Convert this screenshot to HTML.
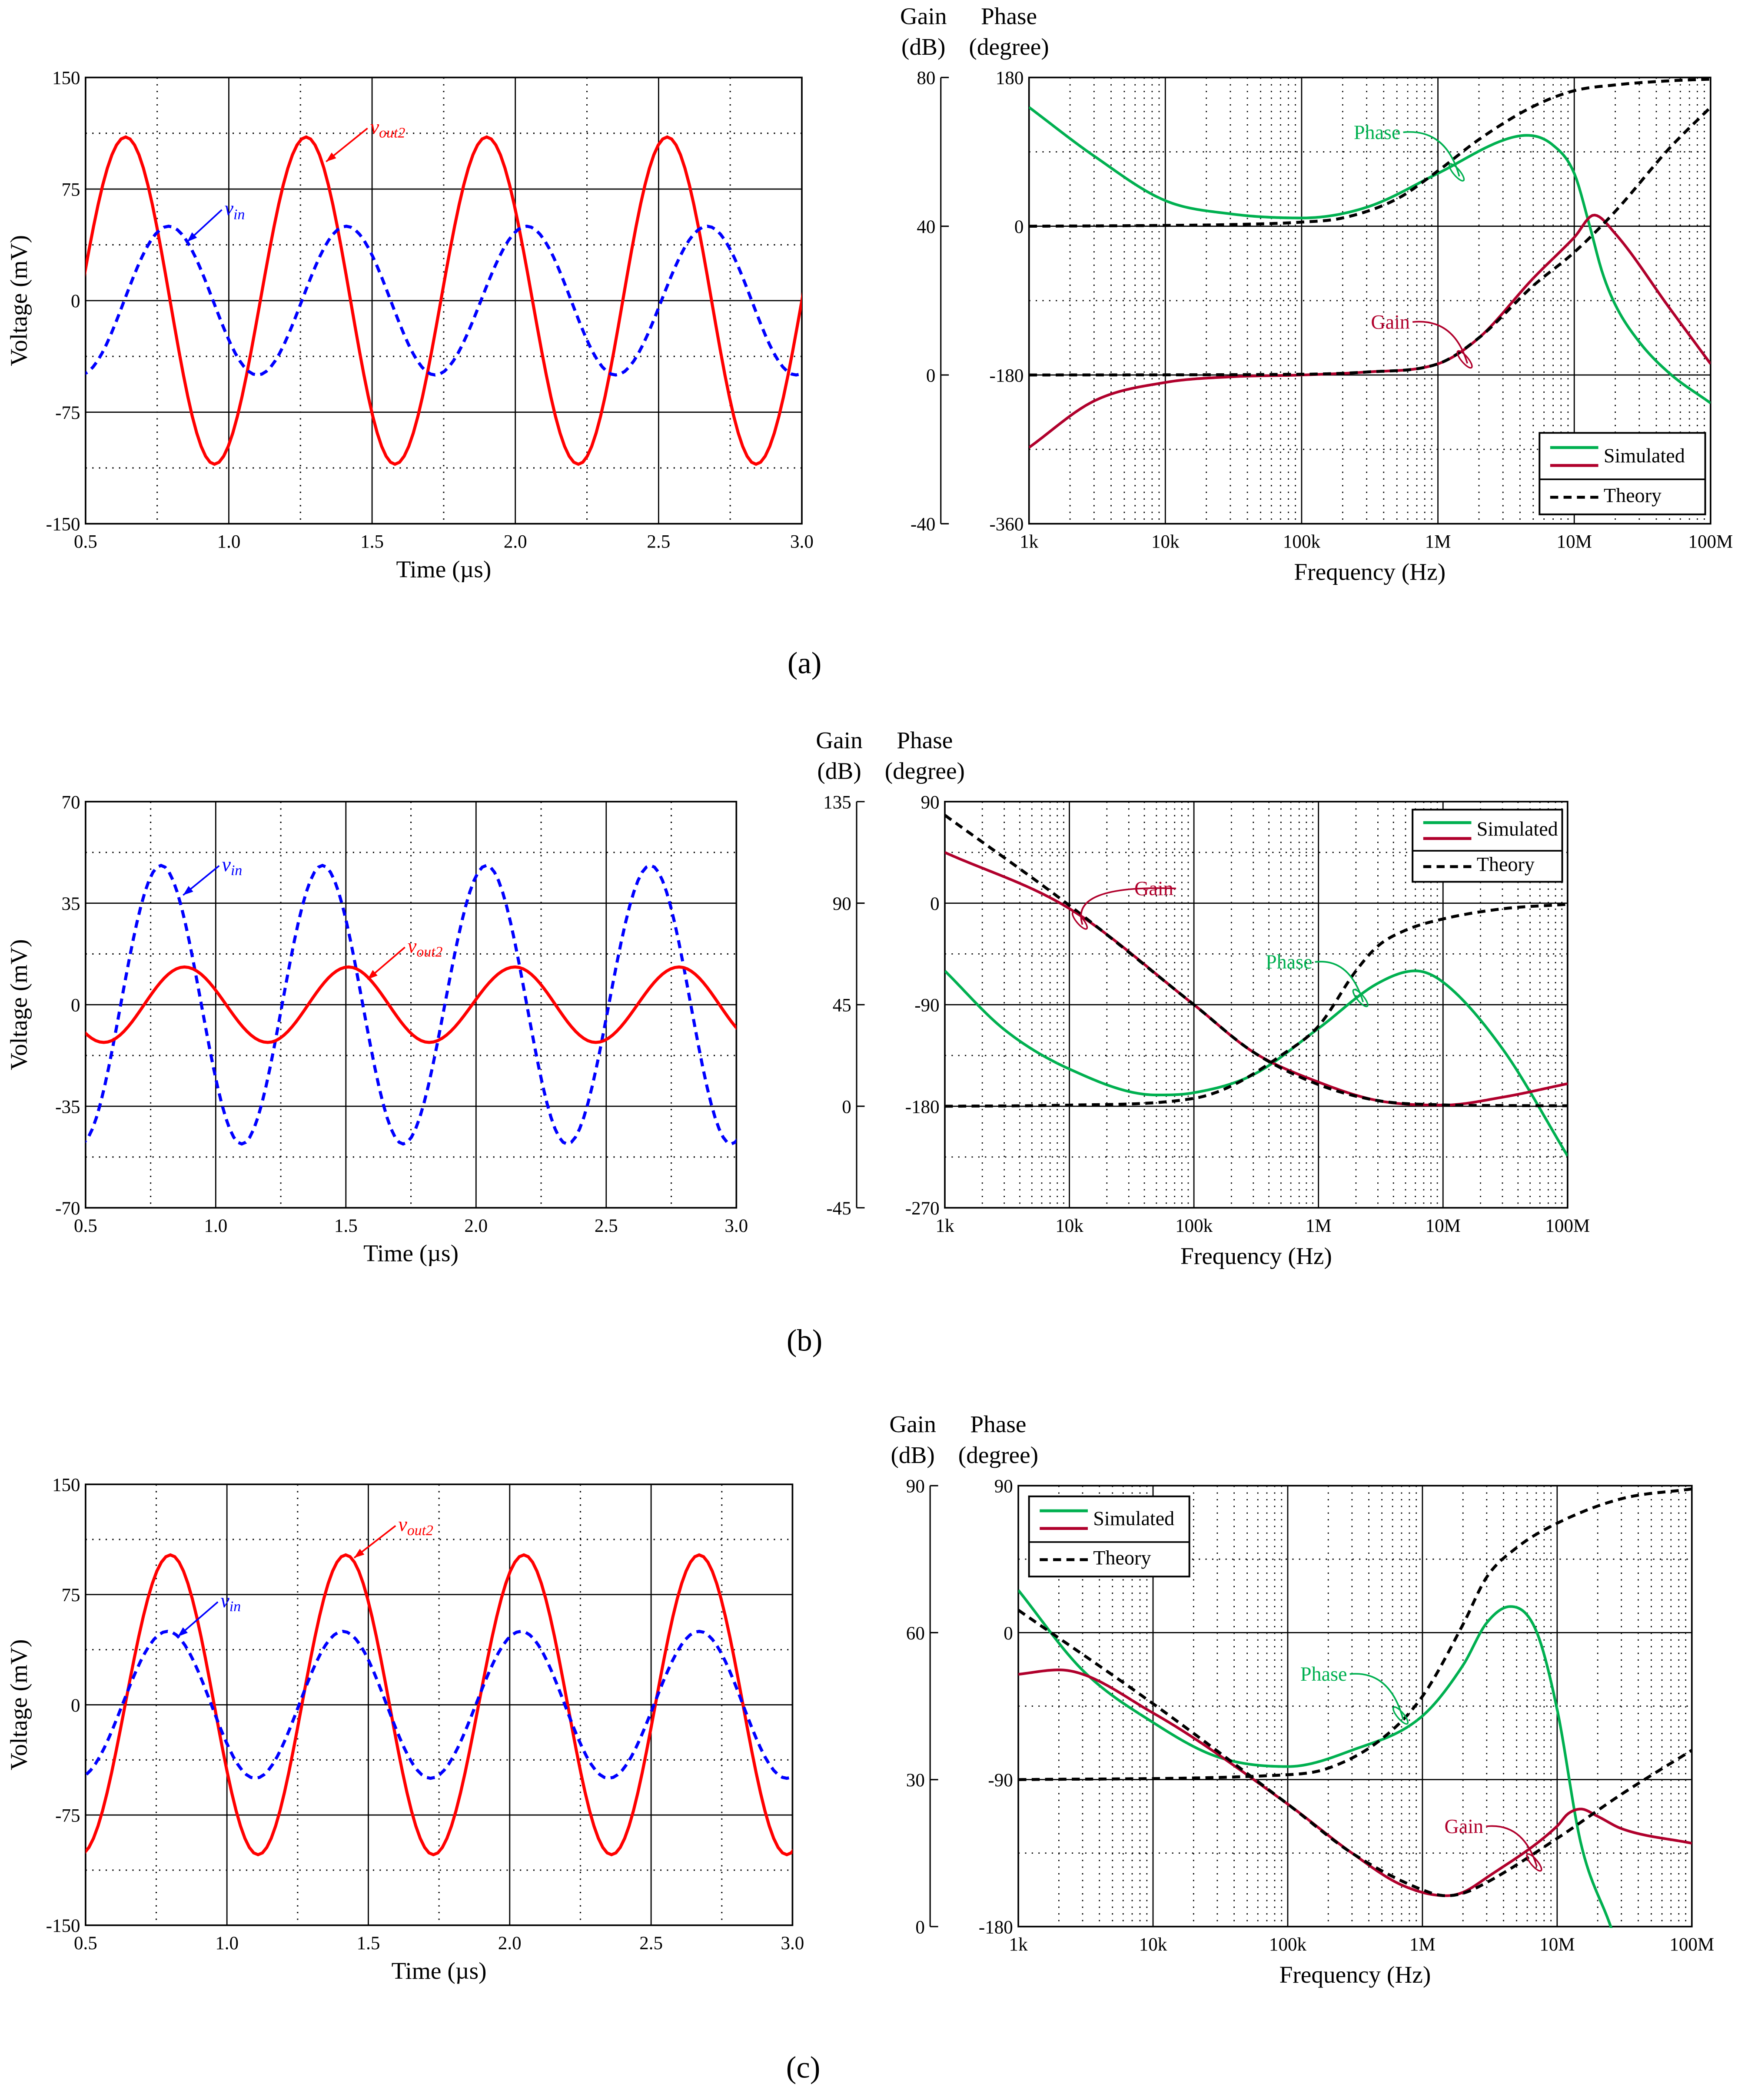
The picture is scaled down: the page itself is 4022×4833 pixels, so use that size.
<!DOCTYPE html>
<html><head><meta charset="utf-8"><style>
html,body{margin:0;padding:0;background:#fff;}
svg{display:block;}
text{font-family:"Liberation Serif",serif;}
</style></head><body>
<svg id="fig" xmlns="http://www.w3.org/2000/svg" width="4022" height="4833" viewBox="0 0 1308 1571.8"></svg>
<script>
// ---------- DATA ----------
const aVoutT=[0.32,0.64,0.95,1.27,1.58,1.90,2.22,2.53,2.84,3.16];
const aVoutV=[-110,110,-110,110,-110,110,-110,110,-110,110];
const aVinT=[0.48,0.79,1.10,1.41,1.72,2.04,2.35,2.67,2.98,3.29];
const aVinV=[-50,50,-50,50,-50,50,-50,50,-50,50];
const bVinT=[0.17,0.48,0.79,1.10,1.41,1.72,2.04,2.35,2.67,2.98,3.29];
const bVinV=[48,-48,48,-48,48,-48,48,-48,48,-48,48];
const bVoutT=[0.26,0.57,0.88,1.20,1.51,1.82,2.15,2.46,2.78,3.09];
const bVoutV=[13,-13,13,-13,13,-13,13,-13,13,-13];
const cVoutT=[0.17,0.48,0.80,1.11,1.42,1.73,2.05,2.36,2.67,2.98,3.29];
const cVoutV=[102,-102,102,-102,102,-102,102,-102,102,-102,102];
const cVinT=[0.16,0.47,0.79,1.10,1.41,1.72,2.04,2.35,2.67,2.98,3.29];
const cVinV=[50,-50,50,-50,50,-50,50,-50,50,-50,50];
const timeTicks=[0.5,1.0,1.5,2.0,2.5,3.0];
const aVTicks=[-150,-75,0,75,150];
const bVTicks=[-70,-35,0,35,70];
const freqTickLabels=["1k","10k","100k","1M","10M","100M"];
const aPhSimF=[1e3,3e3,1e4,3e4,1e5,3e5,1e6,3e6,4.5e6,7e6,1e7,1.3e7,1.6e7,2e7,3e7,5e7,1e8];
const aPhSimV=[144,85,31,15,10,23,64,104,110,98,64,0,-55,-95,-140,-178,-214];
const aPhThF=[1e3,1e4,3e4,1e5,2e5,5e5,1e6,2e6,5e6,1e7,2e7,5e7,1e8];
const aPhThV=[0,1,2,5,10,33,67,105,145,164,171,176,178];
const aGSimF=[1e3,3e3,1e4,3e4,1e5,3e5,1e6,2e6,5e6,1e7,1.4e7,2e7,5e7,1e8];
const aGSimV=[-19.5,-7,-2,-0.5,0,0.8,3,10,26,37,43,38,18,3];
const aGThF=[1e3,1e5,3e5,1e6,2e6,5e6,1e7,2e7,5e7,1e8];
const aGThV=[0,0.2,0.8,3,10,24,33,44,61,72];
const bGSimF=[1e3,1e4,1e5,3e5,1e6,3e6,1e7,3e7,1e8];
const bGSimV=[112.5,87.6,45,24,10.7,2.5,0.5,4,10];
const bGThF=[1e3,1e4,1e5,3e5,1e6,3e6,1e7,3e7,1e8];
const bGThV=[129,89,45,24,9.6,2.5,0.6,0.3,0.2];
const bPhSimF=[1e3,3e3,1e4,5e4,1e5,3e5,1e6,3e6,6e6,1e7,3e7,1e8];
const bPhSimV=[-60,-112,-147,-170,-168,-152,-111,-71,-60,-70,-129,-224];
const bPhThF=[1e3,1e4,1e5,2e5,5e5,1e6,2e6,3e6,5e6,1e7,3e7,1e8];
const bPhThV=[-180,-179,-173,-162,-135,-109,-60,-38,-24,-14,-5,-1];
const cPhSimF=[1e3,3e3,1e4,3e4,1e5,3e5,1e6,2e6,3e6,4.5e6,7e6,1e7,1.5e7,2.5e7,4e7];
const cPhSimV=[26,-23,-55,-76,-82,-72,-51,-20,6,16,1,-47,-129,-180,-230];
const cPhThF=[1e3,1e5,2e5,5e5,1e6,2e6,3e6,5e6,1e7,3e7,1e8];
const cPhThV=[-90,-87,-83,-65,-39,5,34,52,67,82,88];
const cGSimF=[1e3,2e3,1e4,1e5,3e5,7e5,1.5e6,2e6,3e6,1e7,1.2e7,1.5e7,2e7,3e7,1e8];
const cGSimV=[51.5,52.4,43.6,25,15,8.5,6.3,7,10,20.5,23,24,22.5,20,17];
const cGThF=[1e3,1e4,1e5,3e5,1e6,1.5e6,2e6,3e6,1e7,3e7,1e8];
const cGThV=[64.6,45.5,25,15,7.5,6.3,6.8,9,18,27,36];

// ---------- DRAW ----------
const NS="http://www.w3.org/2000/svg";
const svg=document.getElementById('fig');
function mk(tag,attrs,parent){const e=document.createElementNS(NS,tag);for(const k in attrs)e.setAttribute(k,attrs[k]);(parent||svg).appendChild(e);return e;}
function txt(x,y,s,size,anchor,fill,parent){const t=mk('text',{x:x,y:y,'font-size':size,'text-anchor':anchor||'middle',fill:fill||'#000'},parent);t.textContent=s;return t;}
// monotone cubic interpolation (Fritsch-Carlson)
function mono(xs,ys){const n=xs.length,d=[],m=new Array(n);for(let i=0;i<n-1;i++)d.push((ys[i+1]-ys[i])/(xs[i+1]-xs[i]));
  m[0]=d[0];m[n-1]=d[n-2];for(let i=1;i<n-1;i++){m[i]=(d[i-1]*d[i]<=0)?0:(d[i-1]+d[i])/2;}
  for(let i=0;i<n-1;i++){if(d[i]===0){m[i]=0;m[i+1]=0;continue;}const a=m[i]/d[i],b=m[i+1]/d[i],s=a*a+b*b;if(s>9){const t=3/Math.sqrt(s);m[i]=t*a*d[i];m[i+1]=t*b*d[i];}}
  return x=>{let i=0;while(i<n-2&&x>xs[i+1])i++;const h=xs[i+1]-xs[i],t=(x-xs[i])/h,t2=t*t,t3=t2*t;
    return (2*t3-3*t2+1)*ys[i]+(t3-2*t2+t)*h*m[i]+(-2*t3+3*t2)*ys[i+1]+(t3-t2)*h*m[i+1];};}
let clipN=0;
function clipFor(x0,y0,x1,y1){const id='c'+(clipN++);const cp=mk('clipPath',{id:id});mk('rect',{x:x0,y:y0,width:x1-x0,height:y1-y0},cp);return 'url(#'+id+')';}

function timePlot(p){
  const g=mk('g',{});
  
  
  const X=t=>p.x0+(t-0.5)/2.5*(p.x1-p.x0);
  const Y=v=>p.y1-(v-p.vmin)/(p.vmax-p.vmin)*(p.y1-p.y0);
  const step=p.vt[1]-p.vt[0];
  for(let t=0.75;t<3;t+=0.5) mk('line',{x1:X(t),x2:X(t),y1:p.y0,y2:p.y1,stroke:'#000','stroke-width':1,'stroke-dasharray':'1,4'},g);
  for(let i=0;i<p.vt.length-1;i++){const v=p.vt[i]+step/2;mk('line',{x1:p.x0,x2:p.x1,y1:Y(v),y2:Y(v),stroke:'#000','stroke-width':1,'stroke-dasharray':'1,4'},g);}
  timeTicks.forEach(t=>{mk('line',{x1:X(t),x2:X(t),y1:p.y0,y2:p.y1,stroke:'#000','stroke-width':0.9},g);
    const l=txt(X(t),p.y1+18,t.toFixed(1),14,'middle','#000',g);});
  p.vt.forEach(v=>{mk('line',{x1:p.x0,x2:p.x1,y1:Y(v),y2:Y(v),stroke:'#000','stroke-width':0.9},g);
    const l=txt(p.x0-4,Y(v)+5,String(v),14,'end','#000',g);});
  mk('rect',{x:p.x0,y:p.y0,width:p.x1-p.x0,height:p.y1-p.y0,fill:'none',stroke:'#000','stroke-width':1.2},g);
  const xt=txt((p.x0+p.x1)/2,p.y1+40,'Time (µs)',18,'middle','#000',g);
  
  const yt=txt(0,0,'Voltage (mV)',18,'middle','#000',g);
  yt.setAttribute('transform','translate('+(p.x0-44)+','+((p.y0+p.y1)/2)+') rotate(-90)');
  
  const cp=clipFor(p.x0,p.y0-2,p.x1,p.y1+2);
  p.series.forEach(s=>{
    const pts=[];
    for(let i=0;i<s.t.length-1;i++){for(let k=0;k<20;k++){const u=k/20;const t=s.t[i]+u*(s.t[i+1]-s.t[i]);const w=(1-Math.cos(Math.PI*u))/2;pts.push([X(t),Y(s.v[i]+(s.v[i+1]-s.v[i])*w)]);}}
    pts.push([X(s.t[s.t.length-1]),Y(s.v[s.v.length-1])]);
    const path=mk('path',{d:'M'+pts.map(q=>q[0].toFixed(2)+','+q[1].toFixed(2)).join(' L'),fill:'none',stroke:s.color,'stroke-width':2.3,'clip-path':cp},g);
    if(s.dash)path.setAttribute('stroke-dasharray','6,4');
    
    
  });
  p.labels.forEach(L=>{
    const lg=mk('g',{},g);
    
    
    const t=mk('text',{x:L.x,y:L.y,'font-size':15,fill:L.color,'font-style':'italic'},lg);
    t.textContent='v';const s=mk('tspan',{'font-size':11,dy:3},t);s.textContent=L.sub;
    mk('line',{x1:L.x-2,y1:L.y-4,x2:L.ax,y2:L.ay,stroke:L.color,'stroke-width':1.2},lg);
    const ang=Math.atan2(L.ay-(L.y-4),L.ax-(L.x-2));const a=8;
    mk('polygon',{points:[[L.ax,L.ay],[L.ax-a*Math.cos(ang-0.35),L.ay-a*Math.sin(ang-0.35)],[L.ax-a*Math.cos(ang+0.35),L.ay-a*Math.sin(ang+0.35)]].map(q=>q.join(',')).join(' '),fill:L.color},lg);
  });
}

function bodePlot(p){
  const g=mk('g',{});
  
  
  const X=f=>p.x0+(Math.log10(f)-3)/5*(p.x1-p.x0);
  const n=p.gt.length-1;
  const YG=v=>p.y1-(v-p.gt[0])/(p.gt[n]-p.gt[0])*(p.y1-p.y0);
  const YP=v=>p.y1-(v-p.pt[0])/(p.pt[n]-p.pt[0])*(p.y1-p.y0);
  for(let d=3;d<8;d++)for(let m=2;m<10;m++){const x=X(m*Math.pow(10,d));mk('line',{x1:x,x2:x,y1:p.y0,y2:p.y1,stroke:'#000','stroke-width':0.9,'stroke-dasharray':'1,4'},g);}
  for(let i=0;i<n;i++){const y=(YG(p.gt[i])+YG(p.gt[i+1]))/2;mk('line',{x1:p.x0,x2:p.x1,y1:y,y2:y,stroke:'#000','stroke-width':0.9,'stroke-dasharray':'1,4'},g);}
  freqTickLabels.forEach((lab,i)=>{const x=X(Math.pow(10,3+i));mk('line',{x1:x,x2:x,y1:p.y0,y2:p.y1,stroke:'#000','stroke-width':0.9},g);
    const l=txt(x,p.y1+18,lab,14,'middle','#000',g);});
  p.gt.forEach((v,i)=>{const y=YG(v);mk('line',{x1:p.x0,x2:p.x1,y1:y,y2:y,stroke:'#000','stroke-width':0.9},g);
    const l=txt(p.x0-70,y+5,String(v),14,'end','#000',g);
    const l2=txt(p.x0-4,y+5,String(p.pt[i]),14,'end','#000',g);
    mk('line',{x1:p.x0-66,x2:p.x0-60,y1:y,y2:y,stroke:'#000','stroke-width':1},g);});
  mk('line',{x1:p.x0-66,x2:p.x0-66,y1:p.y0,y2:p.y1,stroke:'#000','stroke-width':1},g);
  mk('rect',{x:p.x0,y:p.y0,width:p.x1-p.x0,height:p.y1-p.y0,fill:'none',stroke:'#000','stroke-width':1.2},g);
  const xt=txt((p.x0+p.x1)/2,p.y1+42,'Frequency (Hz)',18,'middle','#000',g);
  
  const t1=txt(p.x0-79,p.y0-40,'Gain',18,'middle','#000',g);
  const t2=txt(p.x0-79,p.y0-17,'(dB)',18,'middle','#000',g);
  const t3=txt(p.x0-15,p.y0-40,'Phase',18,'middle','#000',g);
  const t4=txt(p.x0-15,p.y0-17,'(degree)',18,'middle','#000',g);
  const cp=clipFor(p.x0,p.y0-1,p.x1,p.y1+1);
  p.series.forEach(s=>{
    const Y=s.kind==='g'?YG:YP;
    const lx=s.f.map(f=>Math.log10(f));
    const fn=mono(lx,s.v);
    const pts=[];
    for(let k=0;k<=300;k++){const u=lx[0]+(lx[lx.length-1]-lx[0])*k/300;pts.push(X(Math.pow(10,u)).toFixed(2)+','+Y(fn(u)).toFixed(2));}
    const path=mk('path',{d:'M'+pts.join(' L'),fill:'none',stroke:s.color,'stroke-width':s.dash?2.2:2,'clip-path':cp},g);
    if(s.dash)path.setAttribute('stroke-dasharray','6,4');
    
    
  });
  p.labels.forEach(L=>{
    const lg=mk('g',{},g);
    
    
    txt(L.x,L.y,L.text,15,'end',L.color,lg);
    mk('path',{d:'M'+(L.x+2)+','+(L.y-5)+' Q'+(L.ax-10)+','+(L.y-8)+' '+L.ax+','+L.ay,fill:'none',stroke:L.color,'stroke-width':1.2},lg);
    mk('ellipse',{cx:L.ax-2,cy:L.ay-3,rx:2.5,ry:8,transform:'rotate(-40 '+(L.ax-2)+' '+(L.ay-3)+')',fill:'none',stroke:L.color,'stroke-width':1.1},lg);
  });
  const lx=p.leg[0],ly=p.leg[1],lw=p.leg[2],lh=p.leg[3];
  const lg=mk('g',{},g);
  
  
  mk('rect',{x:lx,y:ly,width:lw,height:lh,fill:'#fff',stroke:'#000','stroke-width':1.3},lg);
  mk('line',{x1:lx,x2:lx+lw,y1:ly+lh*0.57,y2:ly+lh*0.57,stroke:'#000','stroke-width':1.2},lg);
  mk('line',{x1:lx+8,x2:lx+44,y1:ly+lh*0.18,y2:ly+lh*0.18,stroke:'#00b050','stroke-width':2.2},lg);
  mk('line',{x1:lx+8,x2:lx+44,y1:ly+lh*0.4,y2:ly+lh*0.4,stroke:'#b0002c','stroke-width':2.2},lg);
  mk('line',{x1:lx+8,x2:lx+44,y1:ly+lh*0.79,y2:ly+lh*0.79,stroke:'#000','stroke-width':2.2,'stroke-dasharray':'6,4'},lg);
  const e1=txt(lx+48,ly+lh*0.36,'Simulated',15,'start','#000',lg);
  const e2=txt(lx+48,ly+lh*0.85,'Theory',15,'start','#000',lg);
}

const RED='#ff0000',BLUE='#0000ff',GREEN='#00b050',CRIM='#b0002c';
timePlot({name:'chart-a-time',x0:64,x1:600,y0:58,y1:392,vmin:-150,vmax:150,vt:aVTicks,
  series:[{name:'vout2-line',t:aVoutT,v:aVoutV,color:RED},{name:'vin-line',t:aVinT,v:aVinV,color:BLUE,dash:true}],
  labels:[{name:'vout2-label',x:277,y:100,sub:'out2',color:RED,ax:244,ay:121},{name:'vin-label',x:168,y:161,sub:'in',color:BLUE,ax:140,ay:181}]});
timePlot({name:'chart-b-time',x0:64,x1:551,y0:600,y1:904,vmin:-70,vmax:70,vt:bVTicks,
  series:[{name:'vin-line',t:bVinT,v:bVinV,color:BLUE,dash:true},{name:'vout2-line',t:bVoutT,v:bVoutV,color:RED}],
  labels:[{name:'vin-label',x:166,y:652,sub:'in',color:BLUE,ax:137,ay:670},{name:'vout2-label',x:305,y:713,sub:'out2',color:RED,ax:275,ay:733}]});
timePlot({name:'chart-c-time',x0:64,x1:593,y0:1111,y1:1441,vmin:-150,vmax:150,vt:aVTicks,
  series:[{name:'vout2-line',t:cVoutT,v:cVoutV,color:RED},{name:'vin-line',t:cVinT,v:cVinV,color:BLUE,dash:true}],
  labels:[{name:'vout2-label',x:298,y:1146,sub:'out2',color:RED,ax:265,ay:1166},{name:'vin-label',x:165,y:1203,sub:'in',color:BLUE,ax:133,ay:1225}]});

bodePlot({name:'chart-a-bode',x0:770,x1:1280,y0:58,y1:392,gt:[-40,0,40,80],pt:[-360,-180,0,180],leg:[1152,324,124,61],
  series:[{name:'phase-simulated',kind:'p',f:aPhSimF,v:aPhSimV,color:GREEN},{name:'gain-simulated',kind:'g',f:aGSimF,v:aGSimV,color:CRIM},
    {name:'phase-theory',kind:'p',f:aPhThF,v:aPhThV,color:'#000',dash:true},{name:'gain-theory',kind:'g',f:aGThF,v:aGThV,color:'#000',dash:true}],
  labels:[{name:'phase-label',text:'Phase',x:1048,y:104,color:GREEN,ax:1092,ay:132},{name:'gain-label',text:'Gain',x:1055,y:246,color:CRIM,ax:1098,ay:272}]});
bodePlot({name:'chart-b-bode',x0:707,x1:1173,y0:600,y1:904,gt:[-45,0,45,90,135],pt:[-270,-180,-90,0,90],leg:[1057,606,112,54],
  series:[{name:'phase-simulated',kind:'p',f:bPhSimF,v:bPhSimV,color:GREEN},{name:'gain-simulated',kind:'g',f:bGSimF,v:bGSimV,color:CRIM},
    {name:'phase-theory',kind:'p',f:bPhThF,v:bPhThV,color:'#000',dash:true},{name:'gain-theory',kind:'g',f:bGThF,v:bGThV,color:'#000',dash:true}],
  labels:[{name:'gain-label',text:'Gain',x:878,y:670,color:CRIM,ax:810,ay:692},{name:'phase-label',text:'Phase',x:982,y:725,color:GREEN,ax:1020,ay:750}]});
bodePlot({name:'chart-c-bode',x0:762,x1:1266,y0:1112,y1:1442,gt:[0,30,60,90],pt:[-180,-90,0,90],leg:[770,1120,120,60],
  series:[{name:'phase-simulated',kind:'p',f:cPhSimF,v:cPhSimV,color:GREEN},{name:'gain-simulated',kind:'g',f:cGSimF,v:cGSimV,color:CRIM},
    {name:'phase-theory',kind:'p',f:cPhThF,v:cPhThV,color:'#000',dash:true},{name:'gain-theory',kind:'g',f:cGThF,v:cGThV,color:'#000',dash:true}],
  labels:[{name:'phase-label',text:'Phase',x:1008,y:1258,color:GREEN,ax:1050,ay:1287},{name:'gain-label',text:'Gain',x:1110,y:1372,color:CRIM,ax:1150,ay:1397}]});

[['(a)',602,504],['(b)',602,1011],['(c)',601,1555]].forEach(c=>{
  const t=txt(c[1],c[2],c[0],23,'middle','#000');
  
  
});
</script>
</body></html>
